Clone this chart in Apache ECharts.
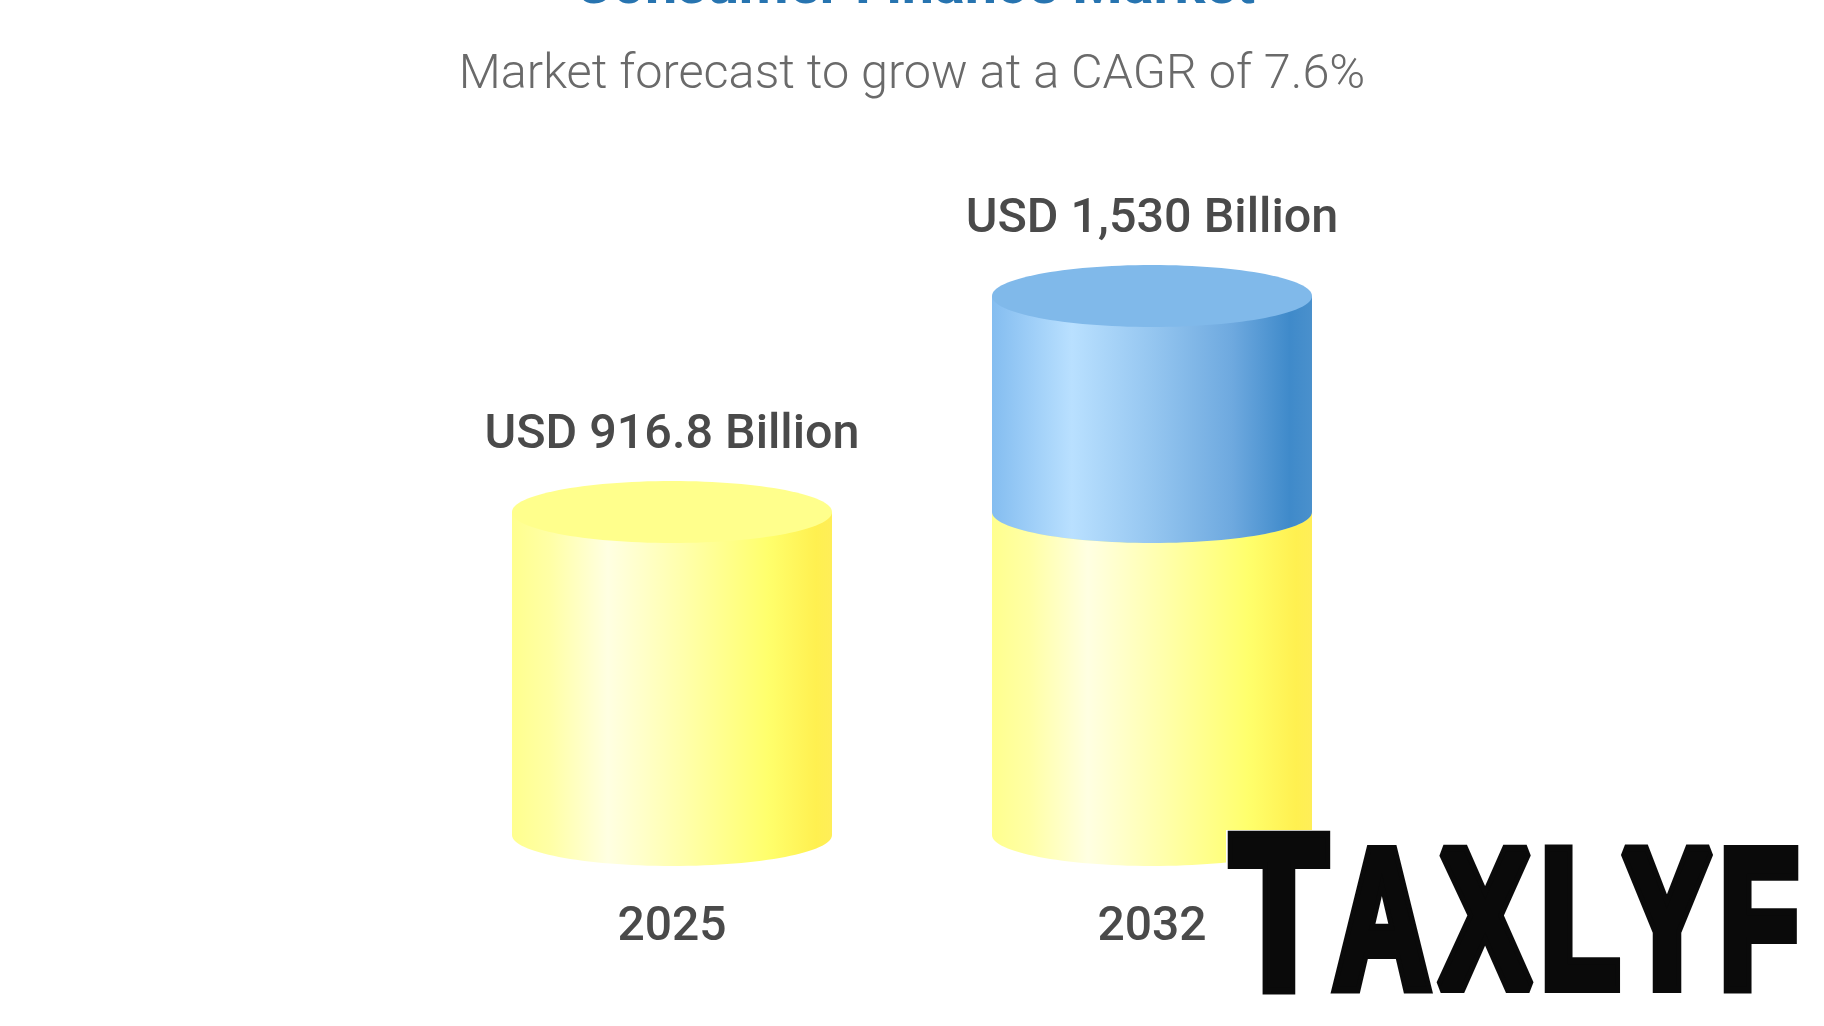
<!DOCTYPE html>
<html>
<head>
<meta charset="utf-8">
<style>
  html, body { margin: 0; padding: 0; background: #fff; }
  #chart { width: 1824px; height: 1026px; }
</style>
<script src="https://cdn.jsdelivr.net/npm/echarts@6/dist/echarts.min.js"></script>
</head>
<body>
<div id="chart"></div>
<script>
'use strict'
var categories = ['2025', '2032']
var baseValues = [916.8, 916.8]
var totalValues = [916.8, 1530]
var valueLabels = ['USD 916.8 Billion', 'USD 1,530 Billion']
var titleText = 'Consumer Finance Market'
var subtitleText = 'Market forecast to grow at a CAGR of 7.6%'
var logoLetters = ['T', 'A', 'X', 'L', 'Y', 'F']

var FONT = 'Roboto, sans-serif'
var TEXT_COLOR = '#4a4a4a'
var BAR_RATIO = 2 / 3
var ELLIPSE_RY = 31

function sideGradient(stops) {
  return new echarts.graphic.LinearGradient(0, 0, 1, 0, stops.map(function(s) {
    return { offset: s[0], color: s[1] }
  }))
}
var yellowSide = sideGradient([
  [0, '#ffff8e'], [0.12, '#ffffa6'], [0.3, '#ffffe2'], [0.55, '#ffffa8'],
  [0.8, '#ffff6c'], [0.95, '#fff050'], [1, '#ffee58']
])
var blueSide = sideGradient([
  [0, '#84bdf0'], [0.25, '#b9e0ff'], [0.5, '#95c6f0'], [0.75, '#6ea9df'],
  [0.93, '#3f8aca'], [1, '#4a90cc']
])

// one cylinder piece: side wall between two values, lid on top
function cylinder(api, side, lid) {
  var idx = api.value(0)
  var low = api.coord([idx, api.value(1)])
  var high = api.coord([idx, api.value(2)])
  var w = api.size([1, 0])[0] * BAR_RATIO
  var rx = w / 2
  var left = low[0] - rx
  return {
    type: 'group',
    children: [
      {
        type: 'ellipse',
        shape: { cx: low[0], cy: low[1], rx: rx, ry: ELLIPSE_RY },
        style: { fill: side }
      },
      {
        type: 'rect',
        shape: { x: left, y: high[1], width: w, height: low[1] - high[1] },
        style: { fill: side }
      },
      {
        type: 'ellipse',
        shape: { cx: high[0], cy: high[1], rx: rx, ry: ELLIPSE_RY },
        style: { fill: lid }
      }
    ]
  }
}

var chart = echarts.init(document.getElementById('chart'))

var logoSlots = [
  { cx: 1279, w: 0.72, size: 218, y: 927 },
  { cx: 1382, w: 0.68, size: 195, y: 932.5 },
  { cx: 1485, w: 0.7, size: 195, y: 932.5 },
  { cx: 1580, w: 0.66, size: 195, y: 932.5 },
  { cx: 1667, w: 0.68, size: 195, y: 932.5 },
  { cx: 1759, w: 0.66, size: 195, y: 932.5 }
]

chart.setOption({
  animation: false,
  backgroundColor: '#ffffff',
  grid: { left: 432, width: 960, top: 201, bottom: 191 },
  xAxis: {
    type: 'category',
    data: categories,
    axisLine: { show: false },
    axisTick: { show: false },
    axisLabel: {
      margin: 69,
      color: TEXT_COLOR,
      fontFamily: FONT,
      fontWeight: 500,
      fontSize: 48
    }
  },
  yAxis: { type: 'value', min: 0, max: 1800, show: false },
  series: [
    {
      type: 'custom',
      name: 'base',
      z: 2,
      data: categories.map(function(c, i) { return [i, 0, baseValues[i]] }),
      renderItem: function(params, api) {
        return cylinder(api, yellowSide, '#ffff8c')
      }
    },
    {
      type: 'custom',
      name: 'growth',
      z: 3,
      data: categories.map(function(c, i) { return [i, baseValues[i], totalValues[i]] }),
      renderItem: function(params, api) {
        if (api.value(2) <= api.value(1)) return null
        return cylinder(api, blueSide, '#80b9ea')
      }
    },
    {
      type: 'custom',
      name: 'labels',
      z: 4,
      data: categories.map(function(c, i) { return [i, totalValues[i], valueLabels[i]] }),
      encode: { x: 0, y: 1 },
      renderItem: function(params, api) {
        var p = api.coord([api.value(0), api.value(1)])
        return {
          type: 'text',
          x: p[0],
          y: p[1] - 76,
          style: {
            text: valueLabels[params.dataIndex],
            align: 'center',
            verticalAlign: 'middle',
            fill: TEXT_COLOR,
            fontFamily: FONT,
            fontWeight: 500,
            fontSize: 48.5
          }
        }
      }
    }
  ],
  graphic: [
    {
      type: 'text',
      x: 915,
      y: 18,
      style: {
        text: titleText,
        align: 'center',
        verticalAlign: 'bottom',
        fill: '#2774b0',
        fontFamily: FONT,
        fontWeight: 700,
        fontSize: 57.5
      }
    },
    {
      type: 'text',
      x: 912,
      y: 76,
      style: {
        text: subtitleText,
        align: 'center',
        verticalAlign: 'middle',
        fill: '#6a6a6a',
        fontFamily: FONT,
        fontWeight: 300,
        fontSize: 48.6
      }
    },
    // logo sits on a white patch that cuts off the corner of the 2032 bar
    {
      type: 'rect',
      z: 10,
      shape: { x: 1226, y: 830, width: 598, height: 170 },
      style: { fill: '#ffffff' }
    }
  ].concat(logoLetters.map(function(ch, i) {
    var s = logoSlots[i]
    return {
      type: 'text',
      z: 11,
      x: s.cx,
      y: s.y,
      scaleX: s.w,
      style: {
        text: ch,
        align: 'center',
        verticalAlign: 'middle',
        fill: '#0a0a0a',
        stroke: '#0a0a0a',
        lineWidth: 14,
        lineJoin: 'round',
        fontFamily: 'Liberation Sans',
        fontWeight: 700,
        fontSize: s.size
      }
    }
  }))
})
</script>
</body>
</html>
